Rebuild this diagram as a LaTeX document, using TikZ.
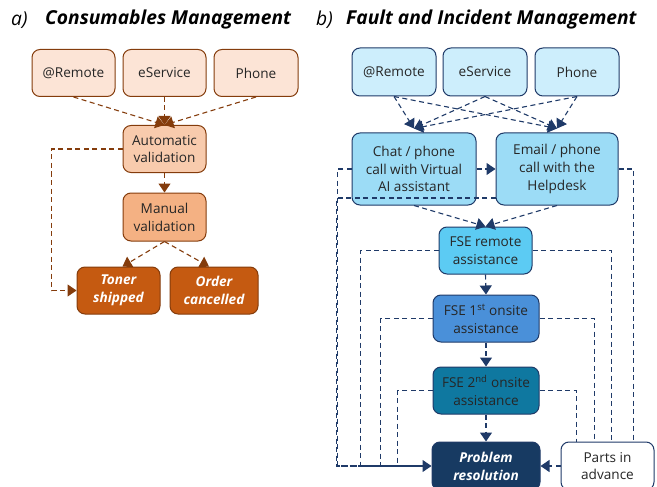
\documentclass[tikz,border=0pt]{standalone}
\usepackage{fontspec}
\setmainfont{Open Sans}
\usetikzlibrary{arrows.meta,calc}
\definecolor{brd}{HTML}{843C0C}
\definecolor{aTop}{HTML}{FCE4D6}
\definecolor{aAuto}{HTML}{F8CBAD}
\definecolor{aMan}{HTML}{F4B183}
\definecolor{aEnd}{HTML}{C55A11}
\definecolor{nav}{HTML}{1F3A68}
\definecolor{bTop}{HTML}{CDEEFC}
\definecolor{bMid}{HTML}{9CDCF6}
\definecolor{bRem}{HTML}{5CCBF3}
\definecolor{bFirst}{HTML}{4A90D9}
\definecolor{bSec}{HTML}{0F78A0}
\definecolor{bProb}{HTML}{173A62}
\begin{document}
\begin{tikzpicture}[x=1pt,y=-1pt,
  box/.style={rounded corners=8pt, line width=1pt, align=center, inner sep=2pt,
    font=\fontsize{13.6}{17.8}\selectfont, text=black!85},
  abox/.style={box, draw=brd},
  bbox/.style={box, draw=nav},
  endtxt/.style={text=white, font=\fontsize{13.6}{17.8}\selectfont\bfseries\itshape},
  lnk/.style={dashed, dash pattern=on 5pt off 3.5pt, line width=1.1pt},
  alnk/.style={lnk, draw=brd, -{Triangle[width=12pt,length=9pt]}},
  blnk/.style={lnk, draw=nav, -{Triangle[width=12pt,length=9pt]}},
  bline/.style={lnk, draw=nav},
  ttl/.style={font=\fontsize{19.2}{21}\selectfont, anchor=west, inner sep=0pt}
]
\useasboundingbox (0,0) rectangle (657,487);

% ---------- titles ----------
\node[ttl] (ta) at (11,20) {\itshape a)};
\node[ttl] (tb) at (316,20) {\itshape b)};
\node[ttl] (tta) at (45,20) {\bfseries\itshape Consumables Management};
\node[ttl] (ttb) at (346,20) {\bfseries\itshape Fault and Incident Management};

% ---------- panel a ----------
\node[abox, fill=aTop, minimum width=83pt, minimum height=47pt] (rA) at (73.5,73) {@Remote};
\node[abox, fill=aTop, minimum width=83pt, minimum height=47pt] (eA) at (164.5,73) {eService};
\node[abox, fill=aTop, minimum width=84pt, minimum height=47pt] (pA) at (256,73) {Phone};
\node[abox, fill=aAuto, minimum width=83pt, minimum height=47pt] (auto) at (164.5,149) {Automatic\\validation};
\node[abox, fill=aMan, minimum width=83pt, minimum height=48pt] (man) at (164.5,217) {Manual\\validation};
\node[abox, fill=aEnd, endtxt, minimum width=83pt, minimum height=47pt] (toner) at (118.5,290.5) {Toner\\shipped};
\node[abox, fill=aEnd, endtxt, minimum width=88pt, minimum height=47pt] (order) at (214,290.5) {Order\\cancelled};

\draw[alnk] (rA.south) -- (auto.north);
\draw[alnk] (pA.south) -- (auto.north);
\draw[alnk] (eA.south) -- (auto.north);
\draw[alnk] (auto.south) -- (man.north);
\draw[alnk] (man.south) -- ($(toner.north)+(4,0)$);
\draw[alnk] (man.south) -- ($(order.north)+(-5,0)$);
\draw[alnk] (auto.west) -- ++(-71,0) |- (toner.west);

% ---------- panel b ----------
\node[bbox, fill=bTop, minimum width=84pt, minimum height=48pt] (rB) at (394,72) {@Remote};
\node[bbox, fill=bTop, minimum width=84pt, minimum height=48pt] (eB) at (485,72) {eService};
\node[bbox, fill=bTop, minimum width=84pt, minimum height=48pt] (pB) at (577,72) {Phone};
\node[bbox, fill=bMid, minimum width=124pt, minimum height=72pt] (chat) at (414,169) {Chat / phone\\call with Virtual\\AI assistant};
\node[bbox, fill=bMid, minimum width=122pt, minimum height=72pt] (email) at (557,169) {Email / phone\\call with the\\Helpdesk};
\node[bbox, fill=bRem, minimum width=93pt, minimum height=47pt] (remote) at (485.5,250.5) {FSE remote\\assistance};
\node[bbox, fill=bFirst, minimum width=106pt, minimum height=47pt] (first) at (486,318.5) {FSE 1\textsuperscript{st} onsite\\assistance};
\node[bbox, fill=bSec, minimum width=106pt, minimum height=47pt] (second) at (486,390.5) {FSE 2\textsuperscript{nd} onsite\\assistance};
\node[bbox, fill=bProb, endtxt, minimum width=108pt, minimum height=48pt] (prob) at (486,466) {Problem\\resolution};
\node[bbox, fill=white, minimum width=93pt, minimum height=48pt] (parts) at (607.5,466) {Parts in\\advance};

% crossing arrows from channels
\foreach \s in {rB,eB,pB}{
  \draw[blnk] (\s.south) -- ($(chat.north)+(0,-4)$);
  \draw[blnk] (\s.south) -- ($(email.north)+(0,-4)$);
}
\draw[blnk] (chat.east) -- (email.west);
\draw[blnk] (chat.south) -- (remote.north);
\draw[blnk] (email.south) -- (remote.north);
\draw[blnk] (remote.south) -- (first.north);
\draw[blnk] (first.south) -- (second.north);
\draw[blnk] (second.south) -- (prob.north);

% left-hand returns to problem resolution
\coordinate (jn) at ($(prob.west)+(-14,0)$);
\draw[bline] (chat.west) -- ++(-14,0) |- (jn);
\draw[bline] ($(email.west)+(0,29)$) -- ++(-159,0) |- (jn);
\draw[bline] (remote.west) -- ++(-78,0) |- (jn);
\draw[bline] (first.west) -- ++(-52,0) |- (jn);
\draw[bline] (second.west) -- ++(-35,0) |- (jn);
\draw[blnk] (jn) -- (prob.west);

% right-hand links to parts in advance
\draw[bline] (email.east) -- ++(15,0) -- ++(0,273);
\draw[bline] (remote.east) -- ++(79,0) -- ++(0,191);
\draw[bline] (first.east) -- ++(55,0) -- ++(0,123);
\draw[bline] (second.east) -- ++(37,0) -- ++(0,51);
\draw[blnk] (parts.west) -- (prob.east);
\end{tikzpicture}
\end{document}
